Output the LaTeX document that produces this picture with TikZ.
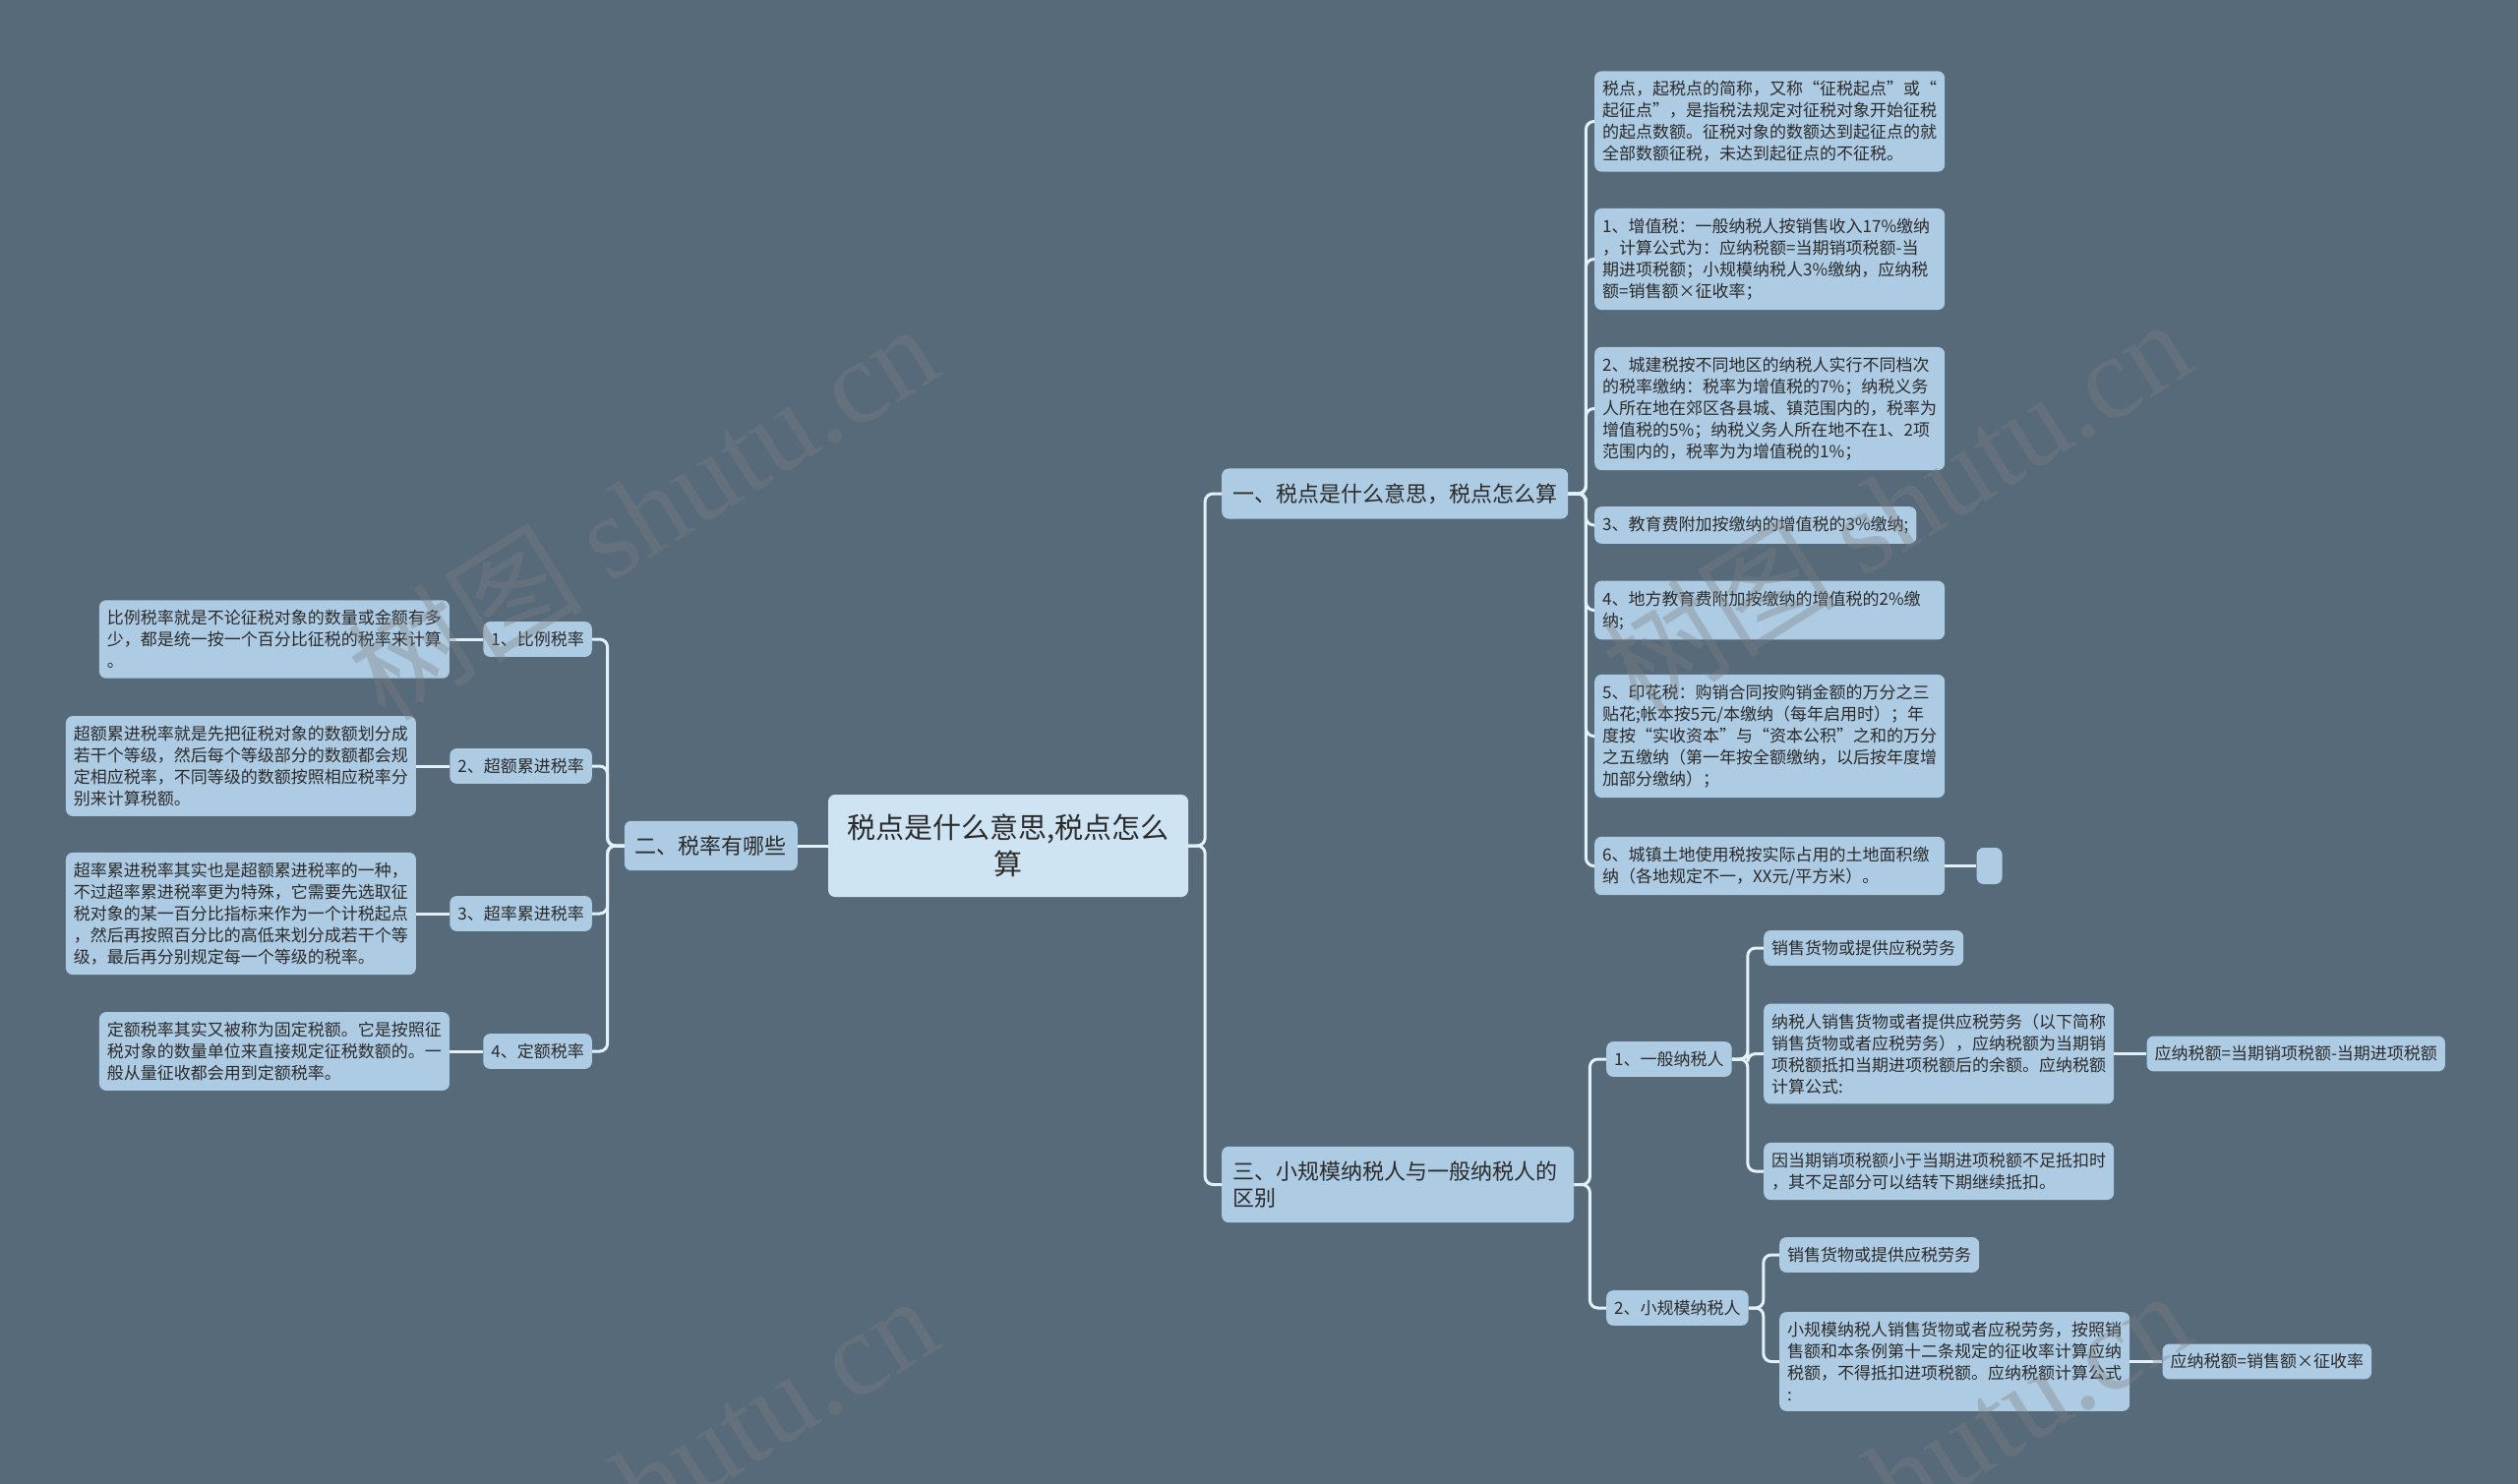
\documentclass[tikz,border=0pt]{standalone}
\usepackage{fontspec}
\newfontfamily\cjk{Noto Sans CJK SC}
\newfontfamily\wmserif{Liberation Serif}
\usetikzlibrary{positioning}
\definecolor{bgslate}{HTML}{566A7A}
\definecolor{nodeblue}{HTML}{ADCBE3}
\definecolor{rootblue}{HTML}{CFE4F2}
\definecolor{linkwhite}{HTML}{E4F0F8}
\definecolor{inkdark}{HTML}{2B2B2B}
\begin{document}
\begin{tikzpicture}[x=1pt,y=-1pt,
  box/.style={fill=nodeblue,rounded corners=7pt,text=inkdark,font=\cjk\fontsize{17}{22}\selectfont,inner xsep=8pt,inner ysep=10pt},
  leaf/.style={box,text width=340pt,align=left},
  branch/.style={box,font=\cjk\fontsize{22}{27}\selectfont,inner xsep=11pt,inner ysep=15pt},
  root/.style={box,fill=rootblue,font=\cjk\fontsize{29}{37}\selectfont,align=center,minimum width=366pt,minimum height=104pt},
  link/.style={draw=linkwhite,line width=3pt,rounded corners=8pt},
  wmark/.style={text=gray,opacity=0.35,rotate=32,font=\fontsize{120}{140}\selectfont}]
\fill[bgslate] (0,0) rectangle (2560,1509);
\useasboundingbox (0,0) rectangle (2560,1509);
% centre
\node[root] (root) at (1025,860) {税点是什么意思,税点怎么\\算};
% left: 二
\node[branch,anchor=east] (b2) at (811,860) {二、税率有哪些};
\node[box,anchor=east] (s1) at (602,650) {1、比例税率};
\node[box,anchor=east] (s2) at (602,779) {2、超额累进税率};
\node[box,anchor=east] (s3) at (602,929) {3、超率累进税率};
\node[box,anchor=east] (s4) at (602,1069) {4、定额税率};
\node[leaf,left=34pt of s1] (l1) {比例税率就是不论征税对象的数量或金额有多\\少，都是统一按一个百分比征税的税率来计算\\。};
\node[leaf,left=34pt of s2] (l2) {超额累进税率就是先把征税对象的数额划分成\\若干个等级，然后每个等级部分的数额都会规\\定相应税率，不同等级的数额按照相应税率分\\别来计算税额。};
\node[leaf,left=34pt of s3] (l3) {超率累进税率其实也是超额累进税率的一种，\\不过超率累进税率更为特殊，它需要先选取征\\税对象的某一百分比指标来作为一个计税起点\\，然后再按照百分比的高低来划分成若干个等\\级，最后再分别规定每一个等级的税率。};
\node[leaf,left=34pt of s4] (l4) {定额税率其实又被称为固定税额。它是按照征\\税对象的数量单位来直接规定征税数额的。一\\般从量征收都会用到定额税率。};
% right: 一
\node[branch,anchor=west] (g1) at (1242,502) {一、税点是什么意思，税点怎么算};
\node[leaf,anchor=west] (r1) at (1621,123.5) {税点，起税点的简称，又称“征税起点”或“\\起征点”，是指税法规定对征税对象开始征税\\的起点数额。征税对象的数额达到起征点的就\\全部数额征税，未达到起征点的不征税。};
\node[leaf,anchor=west] (r2) at (1621,263.5) {1、增值税：一般纳税人按销售收入17\%缴纳\\，计算公式为：应纳税额=当期销项税额-当\\期进项税额；小规模纳税人3\%缴纳，应纳税\\额=销售额×征收率；};
\node[leaf,anchor=west] (r3) at (1621,415.5) {2、城建税按不同地区的纳税人实行不同档次\\的税率缴纳：税率为增值税的7\%；纳税义务\\人所在地在郊区各县城、镇范围内的，税率为\\增值税的5\%；纳税义务人所在地不在1、2项\\范围内的，税率为为增值税的1\%；};
\node[box,anchor=west] (r4) at (1621,534) {3、教育费附加按缴纳的增值税的3\%缴纳;};
\node[leaf,anchor=west] (r5) at (1621,620.5) {4、地方教育费附加按缴纳的增值税的2\%缴\\纳;};
\node[leaf,anchor=west] (r6) at (1621,748.5) {5、印花税：购销合同按购销金额的万分之三\\贴花;帐本按5元/本缴纳（每年启用时）；年\\度按“实收资本”与“资本公积”之和的万分\\之五缴纳（第一年按全额缴纳，以后按年度增\\加部分缴纳）；};
\node[leaf,anchor=west] (r7) at (1621,880.5) {6、城镇土地使用税按实际占用的土地面积缴\\纳（各地规定不一，XX元/平方米）。};
\node[box,right=32pt of r7,minimum width=26pt,minimum height=37pt,inner sep=0pt] (e7) {};
% right: 三
\node[branch,anchor=west,text width=336pt,align=left] (g3) at (1242,1204.5) {三、小规模纳税人与一般纳税人的\\区别};
\node[box,anchor=west] (t1) at (1633,1077) {1、一般纳税人};
\node[box,anchor=west] (t2) at (1633,1330) {2、小规模纳税人};
\node[box,anchor=west] (a1) at (1793,964) {销售货物或提供应税劳务};
\node[leaf,anchor=west] (a2) at (1793,1071.5) {纳税人销售货物或者提供应税劳务（以下简称\\销售货物或者应税劳务），应纳税额为当期销\\项税额抵扣当期进项税额后的余额。应纳税额\\计算公式:};
\node[leaf,anchor=west] (a3) at (1793,1191) {因当期销项税额小于当期进项税额不足抵扣时\\，其不足部分可以结转下期继续抵扣。};
\node[box,right=33pt of a2] (a4) {应纳税额=当期销项税额-当期进项税额};
\node[box,anchor=west] (c1) at (1809,1276) {销售货物或提供应税劳务};
\node[leaf,anchor=west] (c2) at (1809,1384.5) {小规模纳税人销售货物或者应税劳务，按照销\\售额和本条例第十二条规定的征收率计算应纳\\税额，不得抵扣进项税额。应纳税额计算公式\\:};
\node[box,right=33pt of c2] (c3) {应纳税额=销售额×征收率};
% links
\draw[link] (root.west) -- (b2.east);
\foreach \k in {g1,g3} \draw[link] (root.east) -- ++(17,0) |- (\k.west);
\foreach \k in {1,...,4} {
  \draw[link] (b2.west) -- ++(-17,0) |- (s\k.east);
  \draw[link] (s\k.west) -- (l\k.east);
}
\foreach \k in {1,...,7} \draw[link] (g1.east) -- ++(18,0) |- (r\k.west);
\draw[link] (r7.east) -- (e7.west);
\foreach \k in {t1,t2} \draw[link] (g3.east) -- ++(16,0) |- (\k.west);
\foreach \k in {a1,a2,a3} \draw[link] (t1.east) -- ++(16,0) |- (\k.west);
\foreach \k in {c1,c2} \draw[link] (t2.east) -- ++(15,0) |- (\k.west);
\draw[link] (a2.east) -- (a4.west);
\draw[link] (c2.east) -- (c3.west);
% watermark
\foreach \wx/\wy [count=\n] in {653/519,1927/514,653/1507,1927/1502}
  \node[wmark] (wm\n) at (\wx,\wy) {\cjk 树图 \wmserif shutu.cn};
\end{tikzpicture}
\end{document}
